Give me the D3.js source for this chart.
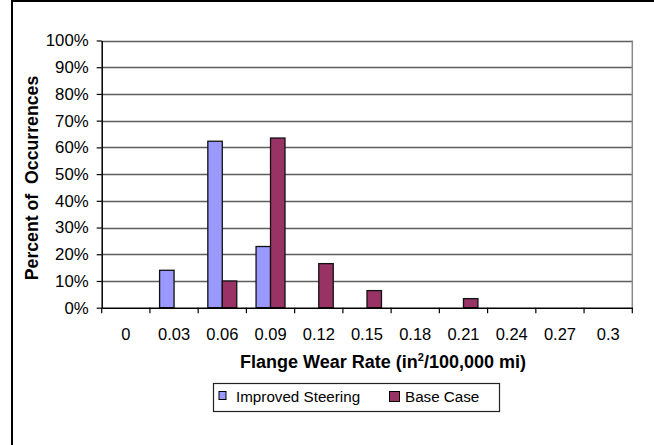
<!DOCTYPE html>
<html>
<head>
<meta charset="utf-8">
<script src="https://cdn.jsdelivr.net/npm/d3@7"></script>
<style>
  html, body { margin: 0; padding: 0; background: #fff; }
  svg { display: block; }
  text { font-family: Arial, "Liberation Sans", sans-serif; }
</style>
</head>
<body>
<svg id="chart" width="654" height="445"></svg>
<script>
const categories = ["0", "0.03", "0.06", "0.09", "0.12", "0.15", "0.18", "0.21", "0.24", "0.27", "0.3"];
const seriesNames = ["Improved Steering", "Base Case"];
const improvedSteering = [0, 14.0, 62.3, 22.9, 0, 0, 0, 0, 0, 0, 0];
const baseCase = [0, 0, 10.0, 63.5, 16.5, 6.4, 0, 3.4, 0, 0, 0];
const yTicks = [0, 10, 20, 30, 40, 50, 60, 70, 80, 90, 100];
const colors = ["#9999FF", "#993366"];

(function () {
const svg = d3.select("#chart");

// outer frame (only left and top visible in the frame)
svg.append("rect")
  .attr("x", 12).attr("y", 1)
  .attr("width", 700).attr("height", 500)
  .attr("fill", "none").attr("stroke", "#000").attr("stroke-width", 2);

const pl = 101.7, pr = 632.3, pt = 40.5, pb = 307.7;

const x = d3.scaleBand().domain(categories).range([pl, pr]).padding(0);
const y = d3.scaleLinear().domain([0, 100]).range([pb, pt]);
const barW = x.bandwidth() * 0.3;
const xs = d3.scaleBand().domain(seriesNames).range([0, 2 * barW]);

// gridlines
svg.append("g").selectAll("line")
  .data(yTicks.filter(d => d > 0))
  .join("line")
  .attr("x1", pl).attr("x2", pr)
  .attr("y1", d => Math.round(y(d)) + 0.5).attr("y2", d => Math.round(y(d)) + 0.5)
  .attr("stroke", "#5e5e5e").attr("stroke-width", 1.6);

// plot right border
svg.append("line")
  .attr("x1", pr).attr("x2", pr).attr("y1", pt).attr("y2", pb)
  .attr("stroke", "#8a8a8a").attr("stroke-width", 1.5);

// bars
const series = [improvedSteering, baseCase];
series.forEach((vals, si) => {
  svg.append("g").selectAll("rect")
    .data(categories.map((c, i) => ({ c, v: vals[i] })).filter(d => d.v > 0))
    .join("rect")
    .attr("x", d => x(d.c) + x.bandwidth() / 2 - barW + xs(seriesNames[si]))
    .attr("y", d => y(d.v))
    .attr("width", xs.bandwidth())
    .attr("height", d => pb - y(d.v))
    .attr("fill", colors[si])
    .attr("stroke", "#111").attr("stroke-width", 1.3);
});

// y axis
const yAxis = svg.append("g")
  .attr("transform", `translate(${pl},0)`)
  .call(d3.axisLeft(y).tickValues(yTicks).tickFormat(d => d + "%").tickSize(5).tickSizeOuter(0));
yAxis.select(".domain").attr("stroke", "#000").attr("stroke-width", 1.5);
yAxis.selectAll(".tick line").attr("stroke", "#000").attr("stroke-width", 1.2);
yAxis.selectAll(".tick text")
  .attr("x", -13)
  .style("font-size", "16.8px").attr("fill", "#000");

// x axis: labels centered in bands, tick marks at band boundaries
const xAxis = svg.append("g")
  .attr("transform", `translate(0,${pb})`)
  .call(d3.axisBottom(x).tickSize(0).tickSizeOuter(0));
xAxis.select(".domain").attr("stroke", "#000").attr("stroke-width", 1.5);
xAxis.selectAll(".tick text")
  .attr("y", 21)
  .style("font-size", "16.5px").attr("fill", "#000");

const bounds = categories.map(c => x(c)).concat([pr]);
svg.append("g").selectAll("line")
  .data(bounds)
  .join("line")
  .attr("x1", d => d).attr("x2", d => d)
  .attr("y1", pb).attr("y2", pb + 5.5)
  .attr("stroke", "#000").attr("stroke-width", 1.2);

// axis titles
svg.append("text")
  .attr("transform", `translate(38,178) rotate(-90)`)
  .attr("text-anchor", "middle")
  .style("font-size", "17.7px").style("font-weight", "bold")
  .text("Percent of\u00a0 Occurrences");

const xt = svg.append("text")
  .attr("x", 383).attr("y", 368)
  .attr("text-anchor", "middle")
  .style("font-size", "18px").style("font-weight", "bold");
xt.append("tspan").text("Flange Wear Rate (in");
xt.append("tspan").attr("dy", -7).style("font-size", "11px").text("2");
xt.append("tspan").attr("dy", 7).text("/100,000 mi)");

// legend
const lg = svg.append("g");
lg.append("rect")
  .attr("x", 213.5).attr("y", 383.5).attr("width", 286).attr("height", 28)
  .attr("fill", "#fff").attr("stroke", "#222").attr("stroke-width", 1.2);
const swatches = [
  { x: 219, y: 391.5, w: 7, h: 8 },
  { x: 389.5, y: 391.5, w: 10, h: 10 }
];
const textX = [236, 405];
seriesNames.forEach((name, i) => {
  const s = swatches[i];
  lg.append("rect")
    .attr("x", s.x).attr("y", s.y).attr("width", s.w).attr("height", s.h)
    .attr("fill", colors[i]).attr("stroke", "#000").attr("stroke-width", 1);
  lg.append("text")
    .attr("x", textX[i]).attr("y", 402)
    .style("font-size", "15.2px").attr("fill", "#000")
    .text(name);
});
})();
</script>
</body>
</html>
